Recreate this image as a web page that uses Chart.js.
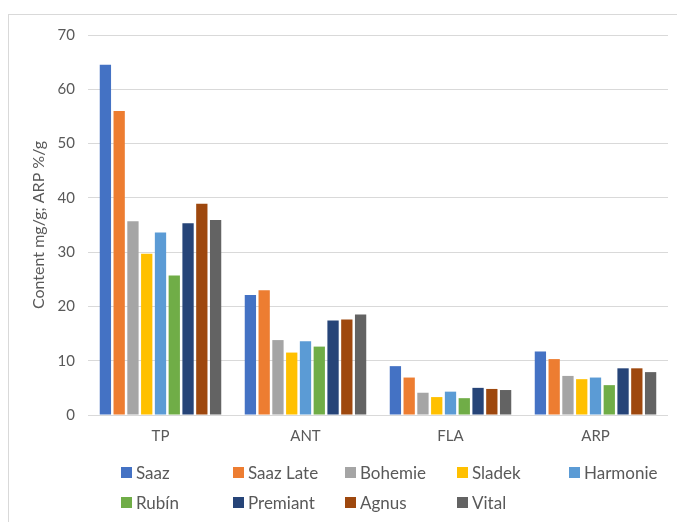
<!DOCTYPE html>
<html>
<head>
<meta charset="utf-8">
<script src="https://cdn.jsdelivr.net/npm/chart.js@4"></script>
<style>
body{margin:0;background:#fff;width:677px;height:522px;overflow:hidden;position:relative;font-family:Lato,sans-serif;}
#frame{position:absolute;left:8px;top:14px;width:700px;height:540px;border-top:1px solid #d9d9d9;border-left:1px solid #d9d9d9;}
#wrap{position:absolute;left:0;top:0;width:677px;height:522px;}
#legend{position:absolute;left:121px;top:462px;display:grid;grid-template-columns:repeat(5,112px);row-gap:10px;}
#legend div{display:flex;align-items:center;height:20px;font-size:17px;color:#595959;white-space:nowrap;}
#legend span{display:inline-block;width:11px;height:11px;margin-right:4px;}
</style>
</head>
<body>
<div id="frame"></div>
<div id="wrap"><canvas id="chart" width="677" height="522"></canvas></div>
<div id="legend"></div>
<script>
/* DATA */
const categories=["TP","ANT","FLA","ARP"];
const saaz=[64.5,22.1,9.0,11.7];
const saazLate=[56.0,23.0,6.9,10.3];
const bohemie=[35.7,13.8,4.1,7.2];
const sladek=[29.7,11.5,3.3,6.6];
const harmonie=[33.6,13.6,4.3,6.9];
const rubin=[25.7,12.6,3.1,5.5];
const premiant=[35.3,17.4,5.0,8.6];
const agnus=[38.9,17.6,4.8,8.6];
const vital=[35.9,18.5,4.6,7.9];
const yTicks=[0,10,20,30,40,50,60,70];

const series=[
    ["Saaz",saaz,"#4472C4"],
    ["Saaz Late",saazLate,"#ED7D31"],
    ["Bohemie",bohemie,"#A5A5A5"],
    ["Sladek",sladek,"#FFC000"],
    ["Harmonie",harmonie,"#5B9BD5"],
    ["Rubín",rubin,"#70AD47"],
    ["Premiant",premiant,"#264478"],
    ["Agnus",agnus,"#9E480E"],
    ["Vital",vital,"#636363"]
];

const textColor="#595959";
const gridColor="#d9d9d9";

const chart=new Chart(document.getElementById("chart"),{
    type:"bar",
    data:{
        labels:categories,
        datasets:series.map(s=>({
            label:s[0],
            data:s[1],
            backgroundColor:s[2],
            borderWidth:0,
            categoryPercentage:0.855,
            barPercentage:0.82
        }))
    },
    options:{
        responsive:false,
        animation:false,
        layout:{padding:{top:35,right:9,bottom:0,left:0}},
        plugins:{legend:{display:false},tooltip:{enabled:false}},
        scales:{
            x:{
                grid:{display:false,drawTicks:false},
                border:{display:false},
                ticks:{color:textColor,font:{family:"Lato",size:15},padding:12},
                afterFit:s=>{s.height=107;}
            },
            y:{
                min:0,max:70,
                afterBuildTicks:s=>{s.ticks=yTicks.map(v=>({value:v}));},
                grid:{color:gridColor,lineWidth:1,drawTicks:false},
                border:{display:false},
                ticks:{color:textColor,font:{family:"Lato",size:15},padding:13},
                title:{display:true,text:"Content mg/g; ARP %/g",color:textColor,font:{family:"Lato",size:16},padding:{top:29,bottom:0}},
                afterFit:s=>{s.width=88;}
            }
        }
    }
});

/* LEGEND */
const legend=document.getElementById("legend");
chart.data.datasets.forEach(d=>{
    const item=document.createElement("div");
    item.innerHTML='<span style="background:'+d.backgroundColor+'"></span>'+d.label;
    legend.appendChild(item);
});
</script>
</body>
</html>
